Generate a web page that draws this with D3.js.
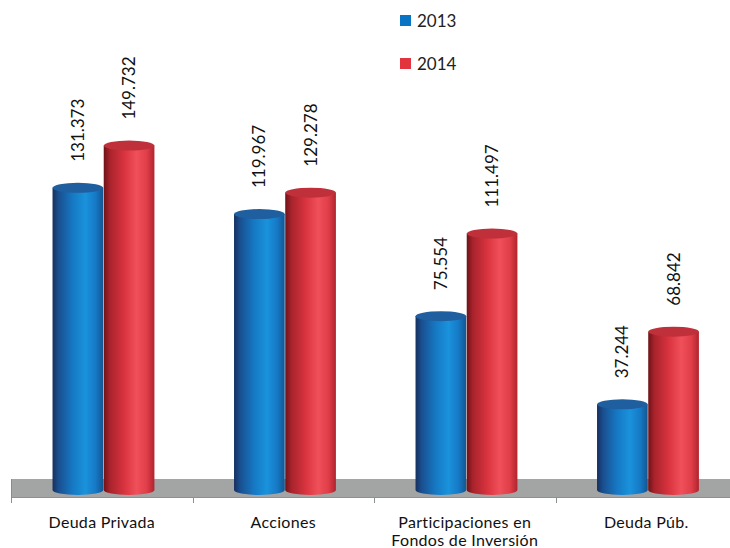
<!DOCTYPE html>
<html><head><meta charset="utf-8">
<script src="https://cdn.jsdelivr.net/npm/d3@7"></script>
<style>body{margin:0;background:#fff}svg{display:block}</style>
</head><body>
<script>
const categories = [["Deuda Privada"], ["Acciones"], ["Participaciones en", "Fondos de Inversión"], ["Deuda Púb."]];
const series = ["2013", "2014"];
const values2013 = [131.373, 119.967, 75.554, 37.244];
const values2014 = [149.732, 129.278, 111.497, 68.842];
const labels2013 = ["131.373", "119.967", "75.554", "37.244"];
const labels2014 = ["149.732", "129.278", "111.497", "68.842"];

const W = 730, H = 548;
const svg = d3.select("body").append("svg").attr("width", W).attr("height", H);
const defs = svg.append("defs");
const font = "Lato, 'Open Sans', sans-serif";

function grad(id, stops) {
  const g = defs.append("linearGradient").attr("id", id).attr("x1", "0%").attr("x2", "100%").attr("y1", "0%").attr("y2", "0%");
  stops.forEach(s => g.append("stop").attr("offset", s[0]).attr("stop-color", s[1]));
}
grad("gBlue", [["0%", "#16305e"], ["12%", "#1a4f90"], ["40%", "#1679c4"], ["65%", "#1a92dc"], ["85%", "#1679c6"], ["100%", "#14558f"]]);
grad("gRed", [["0%", "#6e1218"], ["12%", "#a8232c"], ["40%", "#d8333e"], ["65%", "#f0505a"], ["85%", "#e03e48"], ["100%", "#b0242e"]]);
const topCol = ["#1f5f9f", "#c0303a"];
const fills = ["url(#gBlue)", "url(#gRed)"];
const legendCol = ["#0a74c4", "#e2343e"];

const x0 = d3.scaleBand().domain(d3.range(categories.length)).range([11, 737]).padding(0);
const slot = x0.bandwidth();
const x1 = d3.scaleBand().domain(series).range([slot * 0.226, slot * 0.793]).padding(0.01);
const y = d3.scaleLinear().domain([0, 200]).range([490, 30]);

// floor
svg.append("rect").attr("x", 11).attr("y", 479).attr("width", W - 11).attr("height", 18).attr("fill", "#a3a5a5");
svg.append("line").attr("x1", 11.5).attr("x2", 11.5).attr("y1", 479).attr("y2", 497).attr("stroke", "#8a8c8c");
svg.append("line").attr("x1", 11).attr("x2", W).attr("y1", 497.5).attr("y2", 497.5).attr("stroke", "#8e9090");
// ticks
const ticks = d3.range(categories.length).map(i => x0(i));
svg.selectAll(".tk").data(ticks).join("line").attr("x1", d => Math.round(d) + 0.5).attr("x2", d => Math.round(d) + 0.5)
  .attr("y1", 497).attr("y2", 503).attr("stroke", "#8e9090");

const data = [];
categories.forEach((c, i) => {
  data.push({ i, s: 0, v: values2013[i], lab: labels2013[i] });
  data.push({ i, s: 1, v: values2014[i], lab: labels2014[i] });
});

const ry = 5;
const g = svg.append("g");
data.forEach(d => {
  const bx = x0(d.i) + x1(series[d.s]);
  const bw = x1.bandwidth();
  const rx = bw / 2, cx = bx + rx;
  const yt = y(d.v), yb = y(0);
  g.append("path")
    .attr("d", `M${bx},${yt} L${bx},${yb} A${rx},${ry} 0 0 0 ${bx + bw},${yb} L${bx + bw},${yt} Z`)
    .attr("fill", fills[d.s]);
  g.append("ellipse").attr("cx", cx).attr("cy", yt).attr("rx", rx).attr("ry", ry).attr("fill", topCol[d.s]);
  svg.append("text").attr("transform", `translate(${cx + 6},${yt - 26}) rotate(-90)`)
    .attr("font-family", font).attr("font-size", 17).attr("fill", "#111").text(d.lab);
});

// category labels
categories.forEach((c, i) => {
  const t = svg.append("text").attr("x", x0(i) + slot / 2).attr("y", 528).attr("text-anchor", "middle")
    .attr("font-family", font).attr("font-size", 16).attr("letter-spacing", 0.3).attr("fill", "#111");
  c.forEach((line, k) => t.append("tspan").attr("x", x0(i) + slot / 2).attr("dy", k ? 18 : 0).text(line));
});

// legend
series.forEach((s, k) => {
  svg.append("rect").attr("x", 400).attr("y", 15 + k * 43).attr("width", 11).attr("height", 11).attr("fill", legendCol[k]);
  svg.append("text").attr("x", 417).attr("y", 27 + k * 43).attr("font-family", font).attr("font-size", 17).attr("fill", "#222").text(s);
});
</script>
</body></html>
